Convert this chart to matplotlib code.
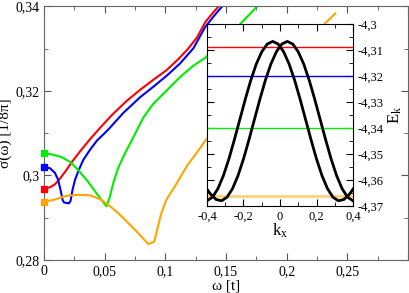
import matplotlib
matplotlib.use("Agg")
import matplotlib.pyplot as plt
from matplotlib.ticker import MultipleLocator, FuncFormatter

plt.rcParams['font.family'] = ['Liberation Serif', 'DejaVu Serif']
plt.rcParams['mathtext.fontset'] = 'custom'
plt.rcParams['mathtext.rm'] = 'Liberation Serif'
plt.rcParams['mathtext.it'] = 'Liberation Serif:italic'

# main panel: sigma(omega) curves
red_w = [0, 0.005, 0.009, 0.013, 0.018, 0.023, 0.030, 0.038, 0.046, 0.056,
         0.068, 0.079, 0.090, 0.101, 0.110, 0.118, 0.126, 0.133, 0.139, 0.144]
red_s = [0.2969, 0.2972, 0.2979, 0.2992, 0.3011, 0.3032, 0.3058, 0.3086, 0.3112, 0.3143,
         0.3176, 0.3202, 0.3226, 0.3249, 0.3273, 0.3297, 0.3326, 0.3363, 0.3384, 0.3400]

blue_w = [0, 0.005, 0.009, 0.0116, 0.0136, 0.0153, 0.0165, 0.0206, 0.0219, 0.0235,
          0.0256, 0.0281, 0.0324, 0.038, 0.0435, 0.0528, 0.0654, 0.0792, 0.0902, 0.1012,
          0.1122, 0.1232, 0.1328, 0.1403, 0.1469]
blue_s = [0.3020, 0.3017, 0.3006, 0.2990, 0.2966, 0.2942, 0.2936, 0.2934, 0.2940, 0.2966,
          0.2990, 0.3009, 0.3037, 0.3061, 0.3082, 0.3108, 0.3148, 0.3185, 0.3210, 0.3236,
          0.3265, 0.3301, 0.3351, 0.3378, 0.3400]

green_w = [0, 0.0058, 0.014, 0.0215, 0.0281, 0.0363, 0.0429, 0.0487, 0.0514, 0.054,
           0.0569, 0.0611, 0.0668, 0.0734, 0.0817, 0.0899, 0.1015, 0.1122, 0.1229, 0.1337,
           0.1617, 0.1757]
green_s = [0.3052, 0.3050, 0.3044, 0.3032, 0.3013, 0.2985, 0.2959, 0.2937, 0.2927, 0.2947,
           0.2980, 0.3018, 0.3053, 0.3089, 0.3136, 0.3169, 0.3202, 0.3233, 0.3259, 0.3280,
           0.3358, 0.3400]

orange_w = [0, 0.0077, 0.0187, 0.0281, 0.038, 0.0462, 0.0517, 0.06, 0.0682, 0.0765,
            0.0858, 0.0908, 0.0965, 0.1007, 0.1078, 0.1177, 0.1287, 0.1328, 0.1823, 0.231,
            0.2401]
orange_s = [0.2938, 0.2942, 0.2952, 0.2954, 0.2953, 0.2944, 0.2933, 0.2914, 0.2891, 0.2867,
            0.2838, 0.2843, 0.2909, 0.2942, 0.2974, 0.3022, 0.3065, 0.3082, 0.3226, 0.3358,
            0.3383]

# inset: band E(kx), the second band is the mirror image kx -> -kx
band_k = [-0.40, -0.37, -0.34, -0.31, -0.28, -0.25, -0.22, -0.19, -0.16, -0.13,
          -0.10, -0.07, -0.04, -0.01, 0.02, 0.05, 0.08, 0.11, 0.14, 0.17,
          0.20, 0.23, 0.26, 0.29, 0.32, 0.35, 0.38, 0.40]
band_E = [-4.3680, -4.3666, -4.3633, -4.3583, -4.3519, -4.3445, -4.3367, -4.3289, -4.3216, -4.3154,
          -4.3107, -4.3077, -4.3067, -4.3077, -4.3107, -4.3154, -4.3216, -4.3289, -4.3367, -4.3445,
          -4.3519, -4.3583, -4.3633, -4.3666, -4.3680, -4.3675, -4.3655, -4.3635]

levels = [-4.309, -4.320, -4.340, -4.3662]
colors = ['#ff0000', '#0000ff', '#00ee00', '#ffa500']


def comma(v, pos):
    return ('%g' % round(v, 6)).replace('.', ',')


def comma_main_x(v, pos):
    # the reference leaves the last tick (0,3) unlabelled
    if v > 0.29:
        return ''
    return comma(v, pos)


fig = plt.figure(figsize=(4.09, 2.93), dpi=100)
ax = fig.add_axes([0.1076, 0.1126, 0.890, 0.8659])

series = [(red_w, red_s), (blue_w, blue_s), (green_w, green_s), (orange_w, orange_s)]
for (w, s), c in zip(series, colors):
    ax.plot(w, s, color=c, lw=1.5)
    ax.plot([w[0]], [s[0]], 's', color=c, ms=5, clip_on=False, zorder=5)

ax.set_xlim(0, 0.3)
ax.set_ylim(0.28, 0.34)
ax.xaxis.set_major_locator(MultipleLocator(0.05))
ax.xaxis.set_minor_locator(MultipleLocator(0.025))
ax.yaxis.set_major_locator(MultipleLocator(0.02))
ax.yaxis.set_minor_locator(MultipleLocator(0.01))
ax.xaxis.set_major_formatter(FuncFormatter(comma_main_x))
ax.yaxis.set_major_formatter(FuncFormatter(comma))
ax.tick_params(which='both', direction='in', top=True, right=True, labelsize=10, color='#555555')
ax.tick_params(which='major', length=5)
ax.tick_params(which='minor', length=3)
for sp in ax.spines.values():
    sp.set_color('#666666')
ax.set_xlabel('ω [t]', fontsize=11, labelpad=1)
ax.set_ylabel('σ(ω) [1/8π]', fontsize=11, labelpad=2)

# inset
ins = fig.add_axes([0.5061, 0.2969, 0.3570, 0.6212])
for e, c in zip(levels[:3], colors[:3]):
    ins.axhline(e, color=c, lw=1.0)
ins.axhline(levels[3], color=colors[3], lw=2, alpha=0.5)
ins.plot(band_k, band_E, color='black', lw=2)
ins.plot([-k for k in band_k], band_E, color='black', lw=2)
ins.set_xlim(-0.4, 0.4)
ins.set_ylim(-4.37, -4.30)
ins.xaxis.set_major_locator(MultipleLocator(0.2))
ins.xaxis.set_minor_locator(MultipleLocator(0.1))
ins.yaxis.set_major_locator(MultipleLocator(0.01))
ins.yaxis.set_minor_locator(MultipleLocator(0.005))
ins.xaxis.set_major_formatter(FuncFormatter(comma))
ins.yaxis.set_major_formatter(FuncFormatter(comma))
ins.yaxis.tick_right()
ins.yaxis.set_label_position('right')
ins.tick_params(which='both', direction='in', top=True, left=True, right=True, labelsize=9)
ins.tick_params(which='major', length=5)
ins.tick_params(which='minor', length=3)
ins.set_xlabel(r'$\mathregular{k_x}$', fontsize=12, labelpad=-1)
ins.set_ylabel(r'$\mathregular{E_k}$', fontsize=12, labelpad=2)

fig.savefig('out.png', dpi=100)
